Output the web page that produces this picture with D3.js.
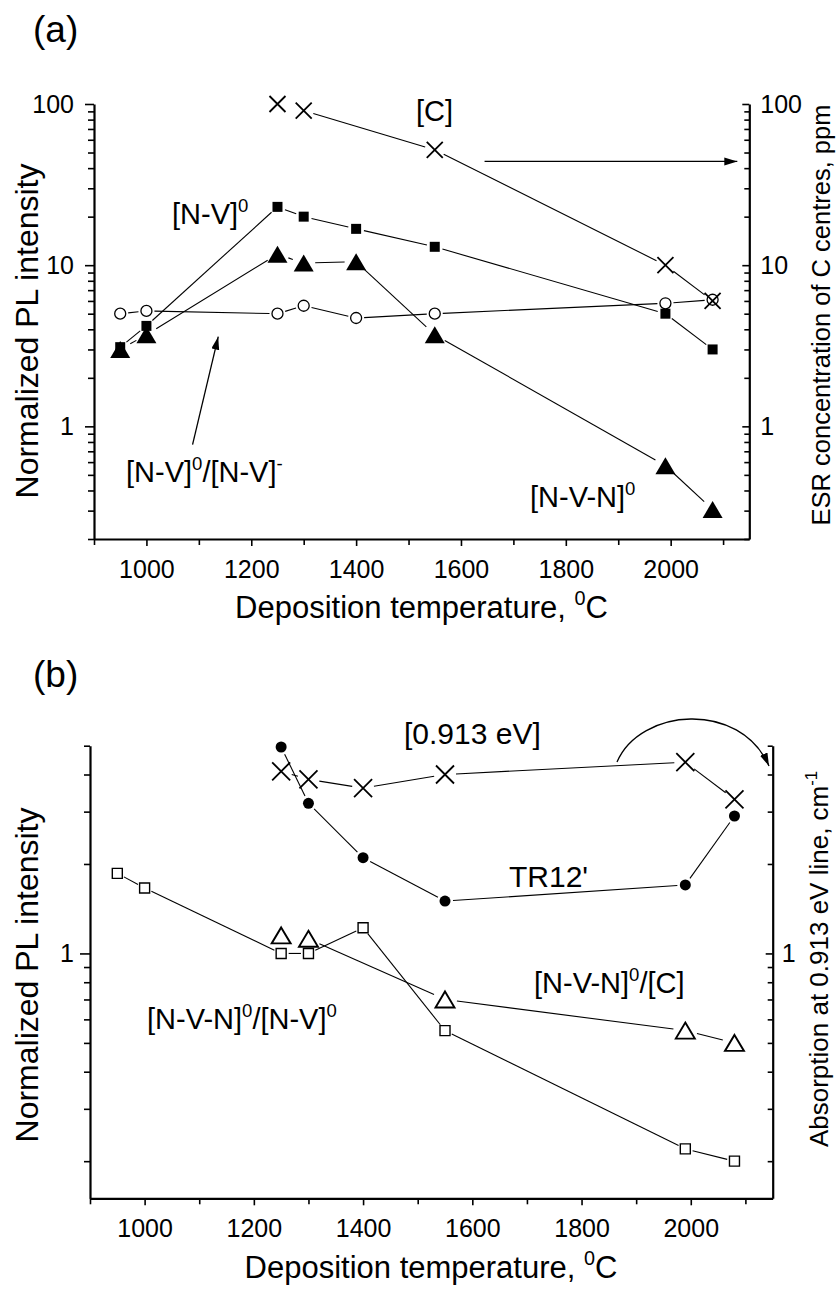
<!DOCTYPE html>
<html>
<head>
<meta charset="utf-8">
<script src="https://cdn.jsdelivr.net/npm/d3@7"></script>
<style>
  body { margin: 0; background: #fff; }
  svg text { font-family: "Liberation Sans", Arial, Helvetica, sans-serif; fill: #000; }
</style>
</head>
<body>
<svg id="chart" width="836" height="1289"></svg>
<script>
// deposition temperatures, deg C
var tempsAll = [950, 1000, 1250, 1300, 1400, 1550, 1990, 2080];
var tempsC = [1250, 1300, 1550, 1990, 2080];
var tempsB = [1250, 1300, 1400, 1550, 1990, 2080];

// panel (a)
var nvZero = [3.1, 4.2, 23, 20, 16.8, 13, 5.0, 3.0];
var nvnZero = [3.0, 3.7, 11.7, 10.3, 10.5, 3.7, 0.57, 0.305];
var nvRatio = [5.0, 5.2, 5.0, 5.6, 4.7, 5.0, 5.8, 6.1];
var cCentres = [100, 91, 52, 10, 6];

// panel (b)
var tr12 = [4.95, 3.2, 2.1, 1.5, 1.7, 2.9];
var abs913 = [4.1, 3.85, 3.6, 4.0, 4.4, 3.3];
var nvnOverNv = [1.86, 1.66, 1.0, 1.0, 1.22, 0.55, 0.22, 0.2];
var nvnOverC = [1.15, 1.12, 0.7, 0.55, 0.5];

var xDomain = [900, 2150];
var xMajor = [1000, 1200, 1400, 1600, 1800, 2000];
var xMinor = [900, 1100, 1300, 1500, 1700, 1900, 2100];
var yMajorA = [1, 10, 100];
var yMajorB = [1];

var svg = d3.select('#chart');
var FONT = '"Liberation Sans", Arial, Helvetica, sans-serif';

var defs = svg.append('defs');
defs.append('marker')
  .attr('id', 'head')
  .attr('markerUnits', 'userSpaceOnUse')
  .attr('markerWidth', 14).attr('markerHeight', 9)
  .attr('refX', 13).attr('refY', 4)
  .attr('orient', 'auto')
  .append('path')
  .attr('d', 'M0,0L13,4L0,8Z')
  .attr('fill', '#000');

// symbol shapes, centred at 0,0
var shapes = {
  square: function(s) {
    var h = s / 2;
    return 'M' + (-h) + ',' + (-h) + 'h' + s + 'v' + s + 'h' + (-s) + 'Z';
  },
  triangle: function(w, t) {
    return 'M0,' + (-t / 2) + 'L' + (w / 2) + ',' + (t / 2) + 'L' + (-w / 2) + ',' + (t / 2) + 'Z';
  },
  cross: function(h) {
    return 'M' + (-h) + ',' + (-h) + 'L' + h + ',' + h + 'M' + (-h) + ',' + h + 'L' + h + ',' + (-h);
  }
};

function richText(g, x, y, size, parts, anchor, transform) {
  var shift = size * 0.42;
  var t = g.append('text')
    .attr('font-size', size)
    .attr('text-anchor', anchor || 'start');
  if (transform) {
    t.attr('transform', transform);
  } else {
    t.attr('x', x).attr('y', y);
  }
  var up = false;
  parts.forEach(function(p) {
    var sp = t.append('tspan').text(p[0]);
    if (p[1] === 'sup') {
      sp.attr('font-size', size * 0.64).attr('dy', -shift);
      up = true;
    } else if (up) {
      sp.attr('dy', shift);
      up = false;
    }
  });
  return t;
}

function drawSeries(g, x, y, xs, ys, opt) {
  var pts = xs.map(function(d, i) { return [x(d), y(ys[i])]; });
  var lines = g.append('g').attr('class', 'lines');
  for (var i = (opt.lineFrom || 0); i < pts.length - 1; i++) {
    var a = pts[i], b = pts[i + 1];
    var dx = b[0] - a[0], dy = b[1] - a[1];
    var len = Math.sqrt(dx * dx + dy * dy);
    if (len <= 2 * opt.gap) continue;
    var ux = dx / len, uy = dy / len;
    lines.append('path')
      .attr('d', d3.line()([
        [a[0] + ux * opt.gap, a[1] + uy * opt.gap],
        [b[0] - ux * opt.gap, b[1] - uy * opt.gap]
      ]))
      .attr('fill', 'none')
      .attr('stroke', '#000')
      .attr('stroke-width', 1.1);
  }
  var sym = g.append('g').attr('class', 'symbols');
  pts.forEach(function(p) {
    var m;
    if (opt.marker === 'circle') {
      m = sym.append('circle').attr('cx', p[0]).attr('cy', p[1]).attr('r', opt.size);
    } else {
      m = sym.append('path')
        .attr('transform', 'translate(' + p[0] + ',' + p[1] + ')')
        .attr('d', opt.path);
    }
    m.attr('fill', opt.fill)
      .attr('stroke', '#000')
      .attr('stroke-width', opt.stroke);
  });
}

function styleAxis(sel, fontSize) {
  sel.selectAll('text').attr('font-size', fontSize).attr('font-family', FONT).attr('fill', '#000');
  sel.selectAll('line').attr('stroke', '#000').attr('stroke-width', 1.6);
  sel.select('.domain').attr('stroke', '#000').attr('stroke-width', 2.2);
}

function drawPanel(cfg) {
  var g = svg.append('g');
  var x = d3.scaleLinear().domain(xDomain).range([cfg.left, cfg.right]);
  var y = d3.scaleLog().domain(cfg.yDomain).range([cfg.bottom, cfg.top]);
  var yMinor = y.ticks().filter(function(v) { return cfg.yMajor.indexOf(v) < 0; });

  // bottom axis
  var bx = g.append('g').attr('transform', 'translate(0,' + cfg.bottom + ')');
  bx.call(d3.axisBottom(x).tickValues(xMajor).tickSize(7).tickSizeOuter(0).tickPadding(14)
    .tickFormat(d3.format('d')));
  styleAxis(bx, 25);
  var bxm = g.append('g').attr('transform', 'translate(0,' + cfg.bottom + ')');
  bxm.call(d3.axisBottom(x).tickValues(xMinor).tickSize(6).tickFormat(''));
  bxm.select('.domain').remove();
  styleAxis(bxm, 25);

  // left axis
  var ly = g.append('g').attr('transform', 'translate(' + cfg.left + ',0)');
  ly.call(d3.axisLeft(y).tickValues(cfg.yMajor).tickSize(cfg.tickL).tickSizeOuter(0)
    .tickPadding(cfg.padL).tickFormat(d3.format('d')));
  styleAxis(ly, 25);
  var lym = g.append('g').attr('transform', 'translate(' + cfg.left + ',0)');
  lym.call(d3.axisLeft(y).tickValues(yMinor).tickSize(6).tickFormat(''));
  lym.select('.domain').remove();
  styleAxis(lym, 25);

  // right axis, ticks pointing inwards
  var ry = g.append('g').attr('transform', 'translate(' + cfg.right + ',0)');
  ry.call(d3.axisRight(y).tickValues(cfg.yMajor).tickSize(-7).tickSizeOuter(0)
    .tickPadding(cfg.padR).tickFormat(d3.format('d')));
  styleAxis(ry, 25);
  var rym = g.append('g').attr('transform', 'translate(' + cfg.right + ',0)');
  rym.call(d3.axisRight(y).tickValues(yMinor).tickSize(-5).tickFormat(''));
  rym.select('.domain').remove();
  styleAxis(rym, 25);

  // titles
  richText(g, cfg.xTitle[0], cfg.xTitle[1], 31,
    [['Deposition temperature, '], ['0', 'sup'], ['C']], 'middle');
  g.append('text')
    .attr('transform', 'translate(' + cfg.yTitle[0] + ',' + cfg.yTitle[1] + ') rotate(-90)')
    .attr('text-anchor', 'middle')
    .attr('font-size', 32)
    .text('Normalized PL intensity');
  richText(g, 0, 0, cfg.rTitleSize, cfg.rTitleParts, 'middle',
    'translate(' + cfg.rTitle[0] + ',' + cfg.rTitle[1] + ') rotate(-90)');
  g.append('text')
    .attr('x', cfg.tag[0]).attr('y', cfg.tag[1])
    .attr('font-size', 37)
    .text(cfg.tagText);

  var plot = g.append('g');
  cfg.series.forEach(function(s) {
    drawSeries(plot, x, y, s.xs, s.ys, s);
  });
  cfg.labels.forEach(function(l) {
    richText(g, l.x, l.y, l.size, l.parts);
  });
  return {x: x, y: y, g: g};
}

// panel (a)
var pa = drawPanel({
  left: 94, right: 749.3, top: 104, bottom: 539,
  yDomain: [0.2, 100], yMajor: yMajorA, tickL: 9, padL: 11, padR: 11,
  xTitle: [421.5, 618], yTitle: [38, 331],
  rTitle: [830, 315], rTitleSize: 25.5,
  rTitleParts: [['ESR concentration of C centres, ppm']],
  tag: [33, 42], tagText: '(a)',
  series: [
    {xs: tempsAll, ys: nvRatio, marker: 'circle', size: 5.5, fill: '#fff', stroke: 1.3, gap: 8},
    {xs: tempsAll, ys: nvZero, path: shapes.square(10), fill: '#000', stroke: 0, gap: 8},
    {xs: tempsAll, ys: nvnZero, path: shapes.triangle(20, 17), fill: '#000', stroke: 0, gap: 11.5},
    {xs: tempsC, ys: cCentres, path: shapes.cross(8), fill: 'none', stroke: 1.8, gap: 10, lineFrom: 1}
  ],
  labels: [
    {x: 416, y: 121, size: 29, parts: [['[C]']]},
    {x: 172, y: 224, size: 29, parts: [['[N-V]'], ['0', 'sup']]},
    {x: 126, y: 482, size: 29, parts: [['[N-V]'], ['0', 'sup'], ['/[N-V]'], ['-', 'sup']]},
    {x: 530, y: 507, size: 29, parts: [['[N-V-N]'], ['0', 'sup']]}
  ]
});

// arrow towards the right axis
pa.g.append('path')
  .attr('d', d3.line()([[pa.x(1645), pa.y(44)], [pa.x(2150) - 12, pa.y(44)]]))
  .attr('stroke', '#000').attr('stroke-width', 1.3).attr('fill', 'none')
  .attr('marker-end', 'url(#head)');
// arrow pointing at the open circle series
pa.g.append('path')
  .attr('d', d3.line()([[pa.x(1088), pa.y(0.77)], [pa.x(1137), pa.y(3.6)]]))
  .attr('stroke', '#000').attr('stroke-width', 1.3).attr('fill', 'none')
  .attr('marker-end', 'url(#head)');

// panel (b)
var pb = drawPanel({
  left: 90, right: 772.7, top: 745.7, bottom: 1198.3,
  yDomain: [0.15, 5], yMajor: yMajorB, tickL: 10, padL: 6, padR: 9,
  xTitle: [431, 1278], yTitle: [38, 975],
  rTitle: [828, 959], rTitleSize: 26,
  rTitleParts: [['Absorption at 0.913 eV line, cm'], ['-1', 'sup']],
  tag: [33, 687], tagText: '(b)',
  series: [
    {xs: tempsAll, ys: nvnOverNv, path: shapes.square(10), fill: '#fff', stroke: 1.4, gap: 7.5},
    {xs: tempsC, ys: nvnOverC, path: shapes.triangle(19, 16), fill: '#fff', stroke: 1.9, gap: 12, lineFrom: 1},
    {xs: tempsB, ys: tr12, marker: 'circle', size: 5.5, fill: '#000', stroke: 0, gap: 8},
    {xs: tempsB, ys: abs913, path: shapes.cross(9), fill: 'none', stroke: 1.8, gap: 11}
  ],
  labels: [
    {x: 404, y: 744, size: 30, parts: [['[0.913 eV]']]},
    {x: 509, y: 887, size: 30, parts: [['TR12\'']]},
    {x: 534, y: 993, size: 29, parts: [['[N-V-N]'], ['0', 'sup'], ['/[C]']]},
    {x: 147, y: 1029, size: 29, parts: [['[N-V-N]'], ['0', 'sup'], ['/[N-V]'], ['0', 'sup']]}
  ]
});

// curved arrow towards the right axis
pb.g.append('path')
  .attr('d', 'M617,762C640,708 740,700 769,766')
  .attr('stroke', '#000').attr('stroke-width', 1.3).attr('fill', 'none')
  .attr('marker-end', 'url(#head)');
</script>
</body>
</html>
